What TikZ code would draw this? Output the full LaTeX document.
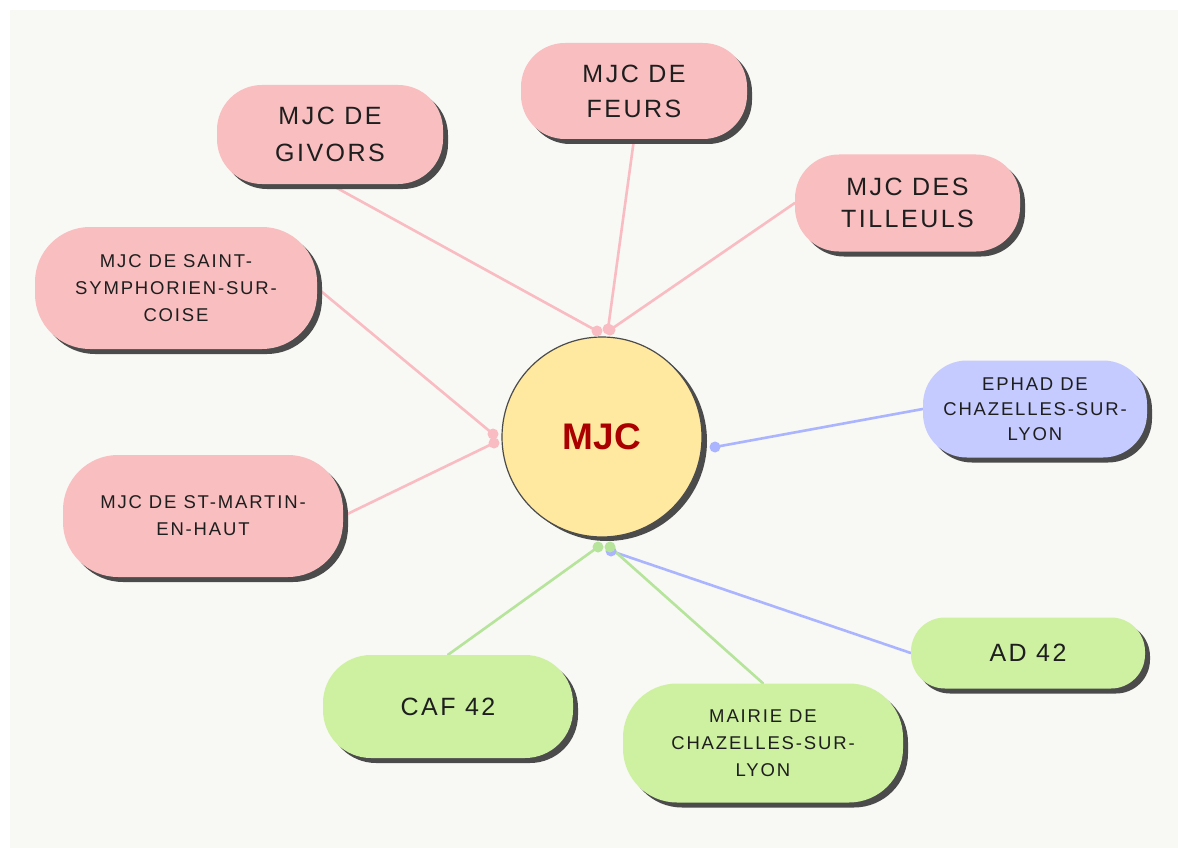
\documentclass[tikz,border=0pt]{standalone}
\usepackage{fontspec}
\setmainfont{Liberation Sans}
\newfontfamily\lblfont[LetterSpace=10]{Liberation Sans}
\usetikzlibrary{shadows}
\definecolor{bgc}{HTML}{F8F8F4}
\definecolor{pinkfill}{HTML}{F9BEBF}
\definecolor{bluefill}{HTML}{C5CBFF}
\definecolor{greenfill}{HTML}{CDF0A1}
\definecolor{yellowfill}{HTML}{FFE89F}
\definecolor{shadowc}{HTML}{4B4B4B}
\definecolor{pinkline}{HTML}{F8BCC2}
\definecolor{blueline}{HTML}{AAB4FF}
\definecolor{greenline}{HTML}{B5E49A}
\definecolor{txtc}{HTML}{1E1E1E}
\definecolor{mjcred}{HTML}{AA0000}
\pgfdeclarelayer{bg}
\pgfdeclarelayer{lines}
\pgfsetlayers{bg,lines,main}
\begin{document}
\begin{tikzpicture}[x=1pt,y=-1pt,
  pill/.style n args={3}{rectangle, inner sep=0pt, align=center, text=txtc,
    minimum width=#1, minimum height=#2, rounded corners=#3,
    drop shadow={shadow xshift=5pt, shadow yshift=-5pt, fill=shadowc, opacity=1}},
  bigtxt/.style={font=\lblfont\fontsize{25}{35}\selectfont},
  smalltxt/.style={font=\lblfont\fontsize{18.5}{27}\selectfont},
  pinknode/.style={fill=pinkfill},
  bluenode/.style={fill=bluefill},
  greennode/.style={fill=greenfill},
  conn/.style={line width=2.6pt, line cap=round},
  tipdot/.style={radius=5.5pt}
]
\useasboundingbox (0,0) rectangle (1178,848);
\begin{pgfonlayer}{bg}
\fill[white] (0,0) rectangle (1178,848);
\fill[bgc] (10,10) rectangle (1178,848);
\end{pgfonlayer}

% central node
\node[circle, draw=shadowc, line width=1.2pt, fill=yellowfill, minimum size=200pt, inner sep=0pt,
  drop shadow={shadow xshift=5pt, shadow yshift=-4pt, fill=shadowc, opacity=1},
  font=\bfseries\fontsize{37}{40}\selectfont, text=mjcred] (mjc) at (602,437) {MJC};

% satellites
\node[pill={226pt}{99pt}{45pt}, pinknode, bigtxt] (givors) at (330,134.5) {MJC DE\\[2pt]GIVORS};
\node[pill={226pt}{96pt}{44pt}, pinknode, bigtxt] (feurs) at (634,91) {MJC DE\\FEURS};
\node[pill={225pt}{97pt}{44pt}, pinknode, bigtxt] (tilleuls) at (907.5,203) {MJC DES\\[-3pt]TILLEULS};
\node[pill={282pt}{122pt}{55pt}, pinknode, smalltxt] (stsym) at (176,288) {MJC DE SAINT-\\SYMPHORIEN-SUR-\\COISE};
\node[pill={280pt}{122pt}{55pt}, pinknode, smalltxt] (stmartin) at (203,516) {MJC DE ST-MARTIN-\\EN-HAUT};
\node[pill={224pt}{97pt}{44pt}, bluenode, smalltxt] (ephad) at (1035,409) {EPHAD DE\\[-2pt]CHAZELLES-SUR-\\[-2pt]LYON};
\node[pill={250pt}{103pt}{48pt}, greennode, bigtxt] (caf) at (448,706.5) {CAF 42};
\node[pill={234pt}{71pt}{34pt}, greennode, bigtxt] (ad) at (1028,653) {AD 42};
\node[pill={280pt}{119pt}{54pt}, greennode, smalltxt] (mairie) at (763,743) {MAIRIE DE\\CHAZELLES-SUR-\\LYON};

% connector ends at the hub
\coordinate (t1) at (597,331);
\coordinate (t2) at (608,329);
\coordinate (t3) at (610,330);
\coordinate (t4) at (493,434);
\coordinate (t5) at (494,443);
\coordinate (t6) at (715,447);
\coordinate (t7) at (611,551);
\coordinate (t8) at (598,547);
\coordinate (t9) at (610,547);

\begin{pgfonlayer}{lines}
\draw[conn, pinkline] (givors.south) -- (t1);
\draw[conn, pinkline] (feurs.south) -- (t2);
\draw[conn, pinkline] (tilleuls.west) -- (t3);
\draw[conn, pinkline] (stsym.east) -- (t4);
\draw[conn, pinkline] (stmartin.east) -- (t5);
\draw[conn, blueline] (ephad.west) -- (t6);
\draw[conn, blueline] (ad.west) -- (t7);
\draw[conn, greenline] (caf.north) -- (t8);
\draw[conn, greenline] (mairie.north) -- (t9);
\end{pgfonlayer}

% dots on the hub
\fill[pinkline] (t1) circle[tipdot];
\fill[pinkline] (t2) circle[tipdot];
\fill[pinkline] (t3) circle[tipdot];
\fill[pinkline] (t4) circle[tipdot];
\fill[pinkline] (t5) circle[tipdot];
\fill[blueline] (t6) circle[tipdot];
\fill[blueline] (t7) circle[tipdot];
\fill[greenline] (t8) circle[tipdot];
\fill[greenline] (t9) circle[tipdot];
\end{tikzpicture}
\end{document}
